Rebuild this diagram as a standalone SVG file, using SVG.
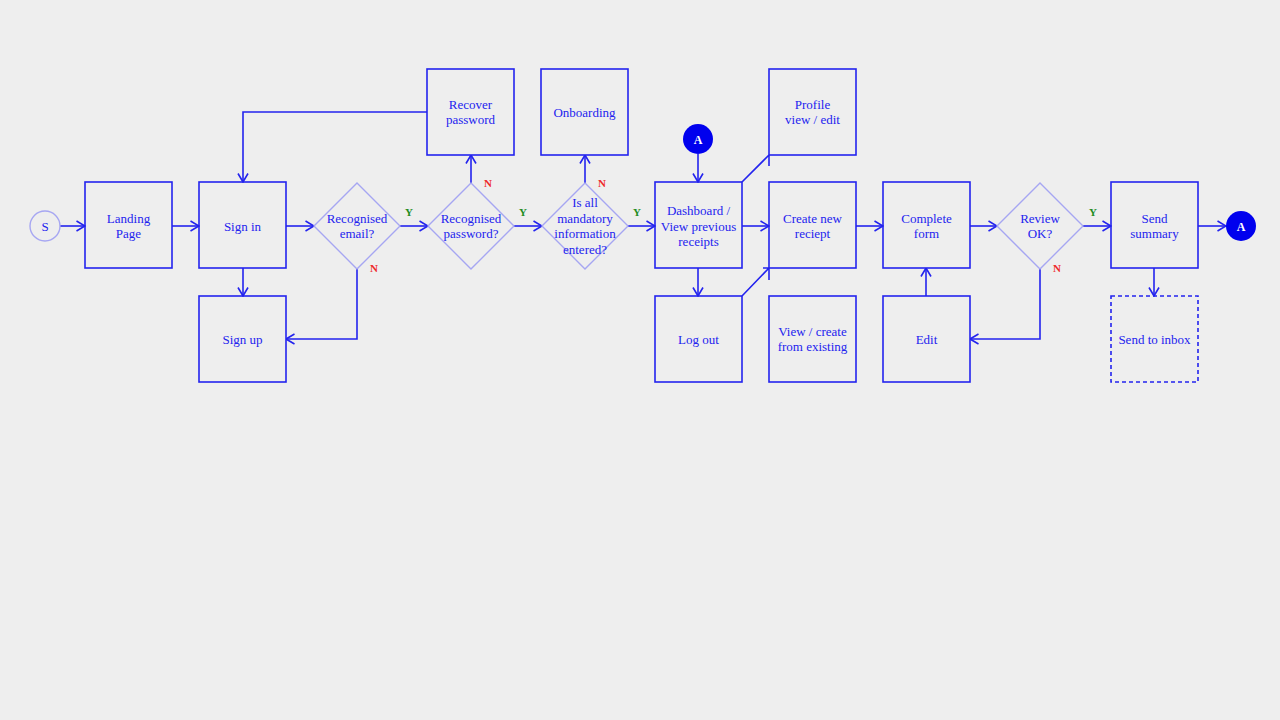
<svg xmlns="http://www.w3.org/2000/svg" width="1280" height="720" viewBox="0 0 1280 720">
<defs>
<marker id="ar" viewBox="0 0 10 12" refX="9.5" refY="6" markerWidth="10" markerHeight="12" markerUnits="userSpaceOnUse" orient="auto">
<path d="M1,1 L9.5,6 L1,11" fill="none" stroke="#2323ee" stroke-width="1.6"/>
</marker>
</defs>
<style>
.b{fill:none;stroke:#2323ee;stroke-width:1.6}
.d{fill:none;stroke:#a6a6f2;stroke-width:1.4}
.t{font-family:"Liberation Serif","DejaVu Serif",serif;font-size:13px;fill:#2323ee;text-anchor:middle}
.c{fill:none;stroke:#2323ee;stroke-width:1.6}
.y{font-family:"Liberation Serif",serif;font-size:11px;font-weight:bold;fill:#1e8c1e;text-anchor:middle}
.n{font-family:"Liberation Serif",serif;font-size:11px;font-weight:bold;fill:#ee2a2a;text-anchor:middle}
</style>
<rect width="1280" height="720" fill="#eeeeee"/>
<g id="connectors">
<path class="c" d="M60,226 H85" marker-end="url(#ar)"/>
<path class="c" d="M172,226 H199" marker-end="url(#ar)"/>
<path class="c" d="M286,226 H314" marker-end="url(#ar)"/>
<path class="c" d="M400,226 H428" marker-end="url(#ar)"/>
<path class="c" d="M514,226 H542" marker-end="url(#ar)"/>
<path class="c" d="M628,226 H655" marker-end="url(#ar)"/>
<path class="c" d="M471,183 V155" marker-end="url(#ar)"/>
<path class="c" d="M585,183 V155" marker-end="url(#ar)"/>
<path class="c" d="M357,269 V339 H286" marker-end="url(#ar)"/>
<path class="c" d="M427,112 H243 V182" marker-end="url(#ar)"/>
<path class="c" d="M243,268 V296" marker-end="url(#ar)"/>
<path class="c" d="M698,154 V182" marker-end="url(#ar)"/>
<path class="c" d="M698,268 V296" marker-end="url(#ar)"/>
<path class="c" d="M742,226 H769" marker-end="url(#ar)"/>
<path class="c" d="M742,182 L769,155 M769,155 V166"/>
<path class="c" d="M742,296 L769,268 M763,268 H769 M769,268 V280"/>
<path class="c" d="M856,226 H883" marker-end="url(#ar)"/>
<path class="c" d="M970,226 H997" marker-end="url(#ar)"/>
<path class="c" d="M1083,226 H1111" marker-end="url(#ar)"/>
<path class="c" d="M1040,269 V339 H970" marker-end="url(#ar)"/>
<path class="c" d="M926,296 V268" marker-end="url(#ar)"/>
<path class="c" d="M1198,226 H1226" marker-end="url(#ar)"/>
<path class="c" d="M1154,268 V296" marker-end="url(#ar)"/>
<text class="y" x="409" y="216">Y</text>
<text class="y" x="523" y="216">Y</text>
<text class="y" x="637" y="216">Y</text>
<text class="y" x="1093" y="216">Y</text>
<text class="n" x="488" y="187">N</text>
<text class="n" x="602" y="187">N</text>
<text class="n" x="374" y="272">N</text>
<text class="n" x="1057" y="272">N</text>
</g>
<g id="start"><circle cx="45" cy="226" r="15" fill="none" stroke="#a6a6f2" stroke-width="1.4"/><text class="t" x="45" y="230.5">S</text></g>
<g id="landing"><rect class="b" x="85" y="182" width="87" height="86"/><text class="t" x="128.5" y="223">Landing</text><text class="t" x="128.5" y="238">Page</text></g>
<g id="signin"><rect class="b" x="199" y="182" width="87" height="86"/><text class="t" x="242.5" y="230.5">Sign in</text></g>
<g id="signup"><rect class="b" x="199" y="296" width="87" height="86"/><text class="t" x="242.5" y="343.5">Sign up</text></g>
<g id="email"><path class="d" d="M357,183 L400,226 L357,269 L314,226 Z"/><text class="t" x="357" y="223">Recognised</text><text class="t" x="357" y="238">email?</text></g>
<g id="password"><path class="d" d="M471,183 L514,226 L471,269 L428,226 Z"/><text class="t" x="471" y="223">Recognised</text><text class="t" x="471" y="238">password?</text></g>
<g id="recover"><rect class="b" x="427" y="69" width="87" height="86"/><text class="t" x="470.5" y="109">Recover</text><text class="t" x="470.5" y="124">password</text></g>
<g id="mandatory"><path class="d" d="M585,183 L628,226 L585,269 L542,226 Z"/><text class="t" x="585" y="207">Is all</text><text class="t" x="585" y="222.5">mandatory</text><text class="t" x="585" y="238">information</text><text class="t" x="585" y="253.5">entered?</text></g>
<g id="onboarding"><rect class="b" x="541" y="69" width="87" height="86"/><text class="t" x="584.5" y="116.5">Onboarding</text></g>
<g id="a-top"><circle cx="698" cy="139" r="15" fill="#0000ee"/><text class="t" x="698" y="143.5" style="fill:#fff;font-size:12px;font-weight:bold">A</text></g>
<g id="dashboard"><rect class="b" x="655" y="182" width="87" height="86"/><text class="t" x="698.5" y="215">Dashboard /</text><text class="t" x="698.5" y="230.5">View previous</text><text class="t" x="698.5" y="246">receipts</text></g>
<g id="logout"><rect class="b" x="655" y="296" width="87" height="86"/><text class="t" x="698.5" y="343.5">Log out</text></g>
<g id="profile"><rect class="b" x="769" y="69" width="87" height="86"/><text class="t" x="812.5" y="109">Profile</text><text class="t" x="812.5" y="124">view / edit</text></g>
<g id="create"><rect class="b" x="769" y="182" width="87" height="86"/><text class="t" x="812.5" y="223">Create new</text><text class="t" x="812.5" y="238">reciept</text></g>
<g id="existing"><rect class="b" x="769" y="296" width="87" height="86"/><text class="t" x="812.5" y="336">View / create</text><text class="t" x="812.5" y="351">from existing</text></g>
<g id="complete"><rect class="b" x="883" y="182" width="87" height="86"/><text class="t" x="926.5" y="223">Complete</text><text class="t" x="926.5" y="238">form</text></g>
<g id="edit"><rect class="b" x="883" y="296" width="87" height="86"/><text class="t" x="926.5" y="343.5">Edit</text></g>
<g id="review"><path class="d" d="M1040,183 L1083,226 L1040,269 L997,226 Z"/><text class="t" x="1040" y="223">Review</text><text class="t" x="1040" y="238">OK?</text></g>
<g id="summary"><rect class="b" x="1111" y="182" width="87" height="86"/><text class="t" x="1154.5" y="223">Send</text><text class="t" x="1154.5" y="238">summary</text></g>
<g id="inbox"><rect class="b" x="1111" y="296" width="87" height="86" stroke-dasharray="4,3"/><text class="t" x="1154.5" y="343.5">Send to inbox</text></g>
<g id="a-end"><circle cx="1241" cy="226" r="15" fill="#0000ee"/><text class="t" x="1241" y="230.5" style="fill:#fff;font-size:12px;font-weight:bold">A</text></g>
</svg>
